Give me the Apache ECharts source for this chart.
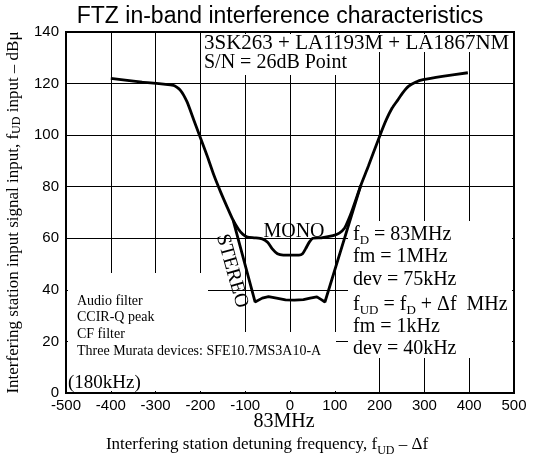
<!DOCTYPE html>
<html><head><meta charset="utf-8">
<script src="https://cdn.jsdelivr.net/npm/echarts@6/dist/echarts.min.js"></script>
<style>html,body{margin:0;padding:0;background:#fff}#c{width:534px;height:458px}</style>
</head><body><div id="c"></div>
<script>
// Axis ranges / ticks
const xMin = -500, xMax = 500, xStep = 100;
const yMin = 0, yMax = 140, yStep = 20;

// MONO curve (detuning kHz, input dBμ)
const monoX = [-400,-330,-260,-245,-230,-215,-200,-185,-170,-155,-140,-127,-115,-105,-95,-80,-62,-50,-40,-28,-15,0,20,28,35,43,51,70,96,110,122,130,138,146,158,175,201,215,228,240,252,265,280,297,340,397];
const monoY = [122,120.6,119.3,117.5,113,106,99,92,84.5,78,72,67,63.5,61.5,60.5,60.2,59.8,58.5,56,54,53.5,53.5,53.5,54,56,58.5,60,60.2,61,62,64,67,70.5,74.5,80.5,88,100,106,110.5,113.5,116.5,119,120.5,121.5,122.8,124.2];

// STEREO curve (branches off the common curve)
const stereoX = [-127,-78,-62,-48,-30,-10,10,30,45,60,70,78,158];
const stereoY = [67,35.3,36.8,37.4,36.8,36.1,36,36.2,36.8,37.3,36.2,35.3,80.5];

const zip = (a, b) => a.map((v, i) => [v, b[i]]);
const serif = '"Liberation Serif", "Times New Roman", serif';
const sans = '"Liberation Sans", Arial, sans-serif';

const chart = echarts.init(document.getElementById('c'), null, {renderer: 'canvas'});

function txt(x, y, text, size, align, extra) {
  return Object.assign({
    type: 'text', x: x, y: y, z: 3,
    style: {text: text, font: size + 'px ' + serif, fill: '#000',
            textAlign: align || 'left', textVerticalAlign: 'middle'}
  }, extra || {});
}
function richTxt(x, y, text, size, subSize, align) {
  return {
    type: 'text', x: x, y: y, z: 3,
    style: {
      text: text, fill: '#000', textAlign: align || 'left', textVerticalAlign: 'middle',
      font: size + 'px ' + serif,
      rich: {
        n: {fontFamily: serif, fontSize: size, lineHeight: size, verticalAlign: 'top', fill: '#000'},
        s: {fontFamily: serif, fontSize: subSize, lineHeight: subSize, verticalAlign: 'top', padding: [Math.round(size*0.45),0,0,0], fill: '#000'}
      }
    }
  };
}
function rect(x, y, w, h) {
  return {type: 'rect', z: 1, shape: {x: x, y: y, width: w, height: h}, style: {fill: '#fff'}, silent: true};
}

const option = {
  backgroundColor: '#fff',
  animation: false,
  grid: {left: 66, right: 20, top: 32, bottom: 65, show: true, borderColor: '#000', borderWidth: 2,
         backgroundColor: 'transparent', containLabel: false, outerBoundsMode: 'none'},
  xAxis: {
    type: 'value', min: xMin, max: xMax, interval: xStep,
    axisLine: {show: true, onZero: false, lineStyle: {color: '#000', width: 2}},
    axisTick: {show: false},
    axisLabel: {color: '#000', fontFamily: sans, fontSize: 15, margin: 5},
    splitLine: {show: true, lineStyle: {color: '#000', width: 1}}
  },
  yAxis: {
    type: 'value', min: yMin, max: yMax, interval: yStep,
    axisLine: {show: true, onZero: false, lineStyle: {color: '#000', width: 2}},
    axisTick: {show: false},
    axisLabel: {color: '#000', fontFamily: sans, fontSize: 15, margin: 7},
    splitLine: {show: true, lineStyle: {color: '#000', width: 1}},
    name: '{n|Interfering station input signal input, f}{s|UD}{n| input – dBμ}',
    nameLocation: 'middle', nameGap: 37, nameRotate: 90,
    nameTextStyle: {
      color: '#000', fontFamily: serif, fontSize: 17,
      rich: {
        n: {fontFamily: serif, fontSize: 17, color: '#000'},
        s: {fontFamily: serif, fontSize: 12, color: '#000', padding: [7,0,0,0]}
      }
    }
  },
  series: [
    {name: 'MONO', type: 'line', data: zip(monoX, monoY), showSymbol: false, smooth: 0.2, z: 2,
     lineStyle: {color: '#000', width: 2.8}},
    {name: 'STEREO', type: 'line', data: zip(stereoX, stereoY), showSymbol: false, smooth: false, z: 2,
     lineStyle: {color: '#000', width: 2.8}}
  ],
  graphic: [
    rect(203, 34, 309, 18),
    rect(203, 52, 142, 23),
    rect(348, 221, 164, 137),
    rect(68, 273, 140, 118),
    rect(208, 332, 128, 59),
    {type: 'text', x: 280, y: 17, z: 3,
     style: {text: 'FTZ in-band interference characteristics', font: '23px ' + sans, fill: '#000', textAlign: 'center', textVerticalAlign: 'middle'}},
    txt(204, 43, '3SK263 + LA1193M + LA1867NM', 21),
    txt(204, 63, 'S/N = 26dB Point', 20),
    txt(294, 232, 'MONO', 20, 'center'),
    txt(232, 271, 'STEREO', 20, 'center', {rotation: -1.30}),
    richTxt(353, 235, '{n|f}{s|D}{n| = 83MHz}', 20, 13),
    txt(353, 257, 'fm = 1MHz', 20),
    txt(353, 280, 'dev = 75kHz', 20),
    richTxt(353, 305, '{n|f}{s|UD}{n| = f}{s|D}{n| + Δf  MHz}', 20, 13),
    txt(353, 327, 'fm = 1kHz', 20),
    txt(353, 349, 'dev = 40kHz', 20),
    txt(77, 301, 'Audio filter', 14),
    txt(77, 317, 'CCIR-Q peak', 14),
    txt(77, 334, 'CF filter', 14),
    txt(77, 351, 'Three Murata devices: SFE10.7MS3A10-A', 14),
    txt(68, 383, '(180kHz)', 19),
    txt(284, 422, '83MHz', 20, 'center'),
    richTxt(267, 445, '{n|Interfering station detuning frequency, f}{s|UD}{n| – Δf}', 17, 12, 'center')
  ]
};
chart.setOption(option);
</script>
</body></html>
